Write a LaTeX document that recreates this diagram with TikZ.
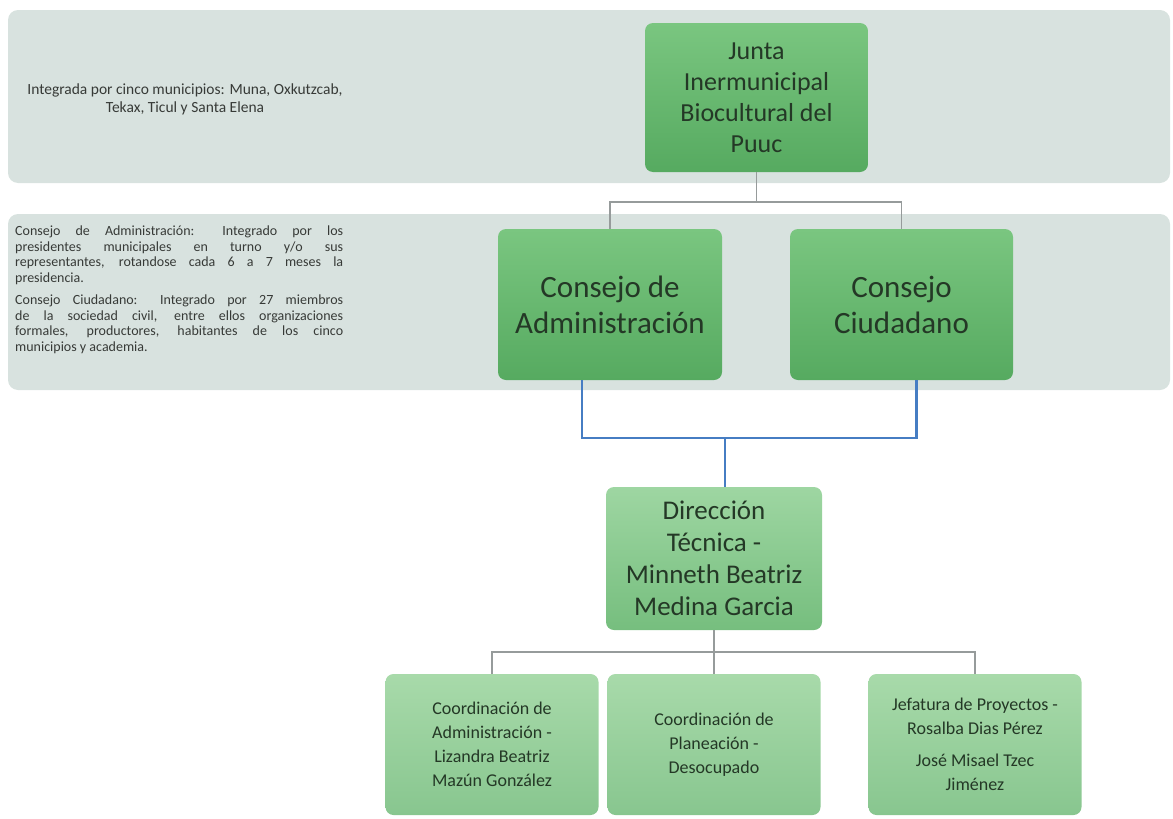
\documentclass[tikz,border=0pt]{standalone}
\usepackage{fontspec}
\setmainfont{Carlito}
\usepackage{xcolor}
\usepackage{tikz}

\definecolor{bandgray}{RGB}{216,226,223}
\definecolor{boxtext}{RGB}{36,56,38}
\definecolor{notetext}{RGB}{55,58,55}
\definecolor{linkgray}{RGB}{150,155,155}
\definecolor{linkblue}{RGB}{70,125,195}
\definecolor{darkTop}{RGB}{122,198,128}
\definecolor{darkBot}{RGB}{86,170,96}
\definecolor{midTop}{RGB}{158,214,162}
\definecolor{midBot}{RGB}{118,190,126}
\definecolor{lightTop}{RGB}{168,218,170}
\definecolor{lightBot}{RGB}{136,198,143}

\begin{document}
\begin{tikzpicture}[x=1pt,y=-1pt,
    band/.style={fill=bandgray, rounded corners=10pt},
    box/.style={rounded corners=8pt, align=center, text=boxtext, inner sep=0pt},
    topbox/.style={box, top color=darkTop, bottom color=darkBot},
    lowbox/.style={box, top color=lightTop, bottom color=lightBot,
        minimum width=213pt, minimum height=141pt, font=\fontsize{18}{24}\selectfont},
    link/.style={draw=linkgray, line width=1.8pt},
    bluelink/.style={draw=linkblue, line width=2.6pt}]
    \useasboundingbox (0,0) rectangle (1173,819);

    % Bands
    \fill[band] (8,10) rectangle (1170,183);
    \fill[band] (8,214) rectangle (1170,390);

    % Notes on the left
    \node[align=center, text=notetext, font=\fontsize{15.5}{18}\selectfont] (noteJunta) at (185,99)
        {Integrada por cinco municipios: Muna, Oxkutzcab,\\Tekax, Ticul y Santa Elena};
    \node[anchor=north west, text width=328pt, align=justify, inner sep=0pt, text=notetext,
        font=\fontsize{14}{15.5}\selectfont] (noteConsejos) at (15,226)
        {\parindent=0pt\parskip=7pt
        Consejo de Administración: Integrado por los\linebreak
        presidentes municipales en turno y/o sus\linebreak
        representantes, rotandose cada 6 a 7 meses la\linebreak
        presidencia.\par
        Consejo Ciudadano: Integrado por 27 miembros\linebreak
        de la sociedad civil, entre ellos organizaciones\linebreak
        formales, productores, habitantes de los cinco\linebreak
        municipios y academia.};

    % Junta and consejos
    \node[topbox, minimum width=223pt, minimum height=149pt, font=\fontsize{26}{31}\selectfont] (junta) at (756.5,97.5)
        {Junta\\Inermunicipal\\Biocultural del\\Puuc};
    \node[topbox, minimum width=224pt, minimum height=151pt, font=\fontsize{31}{36}\selectfont] (admin) at (610,304.5)
        {Consejo de\\Administración};
    \node[topbox, minimum width=223pt, minimum height=151pt, font=\fontsize{31}{36}\selectfont] (ciud) at (901.5,304.5)
        {Consejo\\Ciudadano};

    % Direccion
    \node[box, top color=midTop, bottom color=midBot, minimum width=216pt, minimum height=143pt,
        font=\fontsize{27}{32}\selectfont] (direc) at (714,558.5)
        {Dirección\\Técnica -\\Minneth Beatriz\\Medina Garcia};

    % Coordinaciones
    \foreach \nm/\cx/\txt in {coordAdmin/492/{Coordinación de\\Administración -\\Lizandra Beatriz\\Mazún González},
                              coordPlan/714/{Coordinación de\\Planeación -\\Desocupado},
                              jefatura/975/{Jefatura de Proyectos -\\Rosalba Dias Pérez\\[8pt]José Misael Tzec\\Jiménez}}
        \node[lowbox] (\nm) at (\cx,744.5) {\txt};

    % Links
    \draw[link] (junta.south) -- ++(0,30) -| (admin.north);
    \draw[link] (junta.south) -- ++(0,30) -| (ciud.north);
    \coordinate (blueJoin) at (725,438);
    \draw[bluelink] ([xshift=-28pt]admin.south) |- (blueJoin) -| ([xshift=15pt]ciud.south);
    \draw[bluelink] (blueJoin) -- (blueJoin |- direc.north);
    \draw[link] (direc.south) -- (coordPlan.north);
    \draw[link] (coordAdmin.north) |- ([yshift=-22pt]direc.south) -| (jefatura.north);
\end{tikzpicture}
\end{document}
